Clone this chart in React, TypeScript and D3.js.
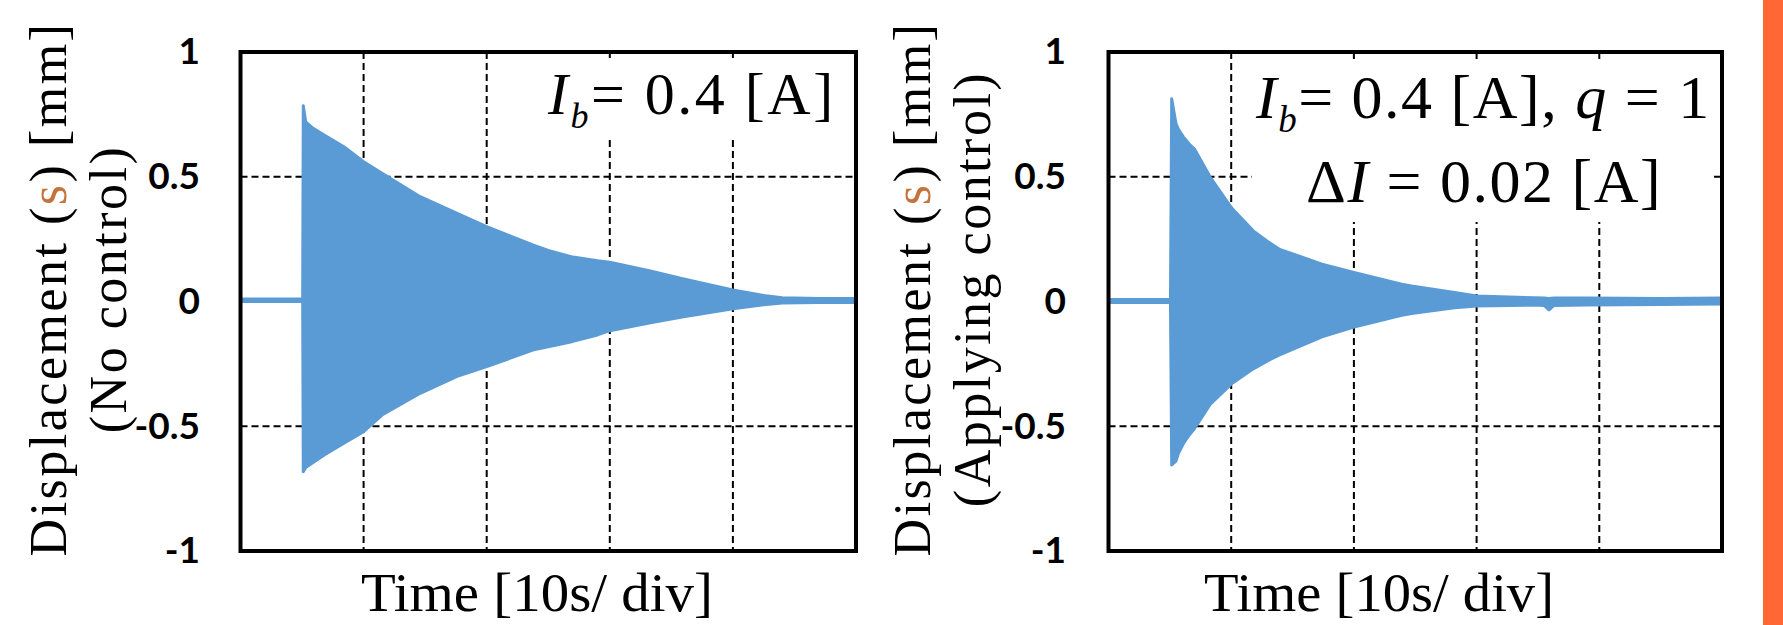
import React, { useEffect, useRef } from 'react';
import * as d3 from 'd3';

// Time axis in seconds (10 s/div), displacement in mm.
const timeTicks = [0, 10, 20, 30, 40, 50];
const yTicks = [1, 0.5, 0, -0.5, -1];
const yTickLabels = ['1', '0.5', '0', '-0.5', '-1'];

const noControlTime = [0, 5.0, 5.05, 5.1, 5.3, 5.9, 6.8, 8.4, 10, 11.5, 14.6, 17.6, 20, 23.8, 25, 27, 29, 30, 33.3, 36, 40, 42.5, 44, 47, 50];
const noControlUpper = [0.01, 0.01, 0.01, 0.785, 0.72, 0.694, 0.667, 0.62, 0.56, 0.514, 0.42, 0.353, 0.3, 0.226, 0.205, 0.178, 0.163, 0.157, 0.122, 0.09, 0.046, 0.024, 0.015, 0.012, 0.012];
const noControlLower = [0, 0, 0, -0.682, -0.665, -0.645, -0.615, -0.568, -0.522, -0.455, -0.368, -0.3, -0.261, -0.194, -0.182, -0.16, -0.134, -0.117, -0.085, -0.061, -0.029, -0.013, -0.006, -0.004, -0.004];

const controlTime = [0, 5.0, 5.05, 5.15, 5.5, 5.7, 6.1, 6.6, 7.0, 8.3, 10, 11.8, 13, 13.9, 17.4, 20, 23.9, 24.7, 28.2, 30, 34.7, 35.5, 35.9, 36.3, 39, 45, 50];
const controlUpper = [0.008, 0.008, 0.008, 0.813, 0.713, 0.69, 0.66, 0.63, 0.612, 0.498, 0.377, 0.283, 0.24, 0.21, 0.15, 0.116, 0.069, 0.062, 0.036, 0.022, 0.015, 0.014, 0.012, 0.014, 0.014, 0.012, 0.014];
const controlLower = [-0.004, -0.004, -0.004, -0.655, -0.64, -0.608, -0.57, -0.534, -0.51, -0.412, -0.331, -0.27, -0.237, -0.215, -0.142, -0.102, -0.055, -0.048, -0.025, -0.018, -0.014, -0.016, -0.034, -0.016, -0.014, -0.012, -0.01];

const BLUE = '#5B9BD5';
const S_COLOR = '#C4733D';
const SERIF = '"Liberation Serif", "Times New Roman", Times, serif';
const SANS = 'Lato, "Liberation Sans", Arial, sans-serif';

const App = () => {
  const svgRef = useRef(null);

  useEffect(() => {
    const svg = d3.select(svgRef.current);
    svg.selectAll('*').remove();

    svg.append('rect').attr('width', 1783).attr('height', 625).attr('fill', '#fff');

    drawPanel(svg, {
      left: 240.5, right: 856, top: 52, bottom: 551,
      time: noControlTime, upper: noControlUpper, lower: noControlLower,
      tickPad: 40.5,
      line1X: 66, line2X: 126, line2: '(No control)',
      titleX: 537, titleY: 611, titleW: 352,
      box: [540, 58, 312, 78],
    });
    // annotation, left panel
    const a = svg.append('text')
      .attr('x', 548).attr('y', 113.5)
      .style('font-family', SERIF).style('font-size', '60px')
      .style('letter-spacing', '2.5px');
    a.append('tspan').style('font-style', 'italic').text('I');
    a.append('tspan').style('font-style', 'italic').style('font-size', '36px').attr('dy', 14).text('b');
    a.append('tspan').attr('dy', -14).text('= 0.4 [A]');

    drawPanel(svg, {
      left: 1108.5, right: 1722, top: 52, bottom: 551,
      time: controlTime, upper: controlUpper, lower: controlLower,
      tickPad: 42.5,
      line1X: 930, line2X: 990, line2: '(Applying control)',
      titleX: 1379, titleY: 611, titleW: 350,
      box: [1252, 63, 462, 159],
    });
    // annotation, right panel (two lines)
    const b1 = svg.append('text')
      .attr('x', 1256).attr('y', 118)
      .style('font-family', SERIF).style('font-size', '62px')
      .style('letter-spacing', '1.5px');
    b1.append('tspan').style('font-style', 'italic').text('I');
    b1.append('tspan').style('font-style', 'italic').style('font-size', '37px').attr('dy', 14).text('b');
    b1.append('tspan').attr('dy', -14).text('= 0.4 [A], ');
    b1.append('tspan').style('font-style', 'italic').text('q');
    b1.append('tspan').text(' = 1');

    const b2 = svg.append('text')
      .attr('x', 1306).attr('y', 202)
      .style('font-family', SERIF).style('font-size', '62px')
      .style('letter-spacing', '1.5px');
    b2.append('tspan').text('\u0394');
    b2.append('tspan').style('font-style', 'italic').text('I');
    b2.append('tspan').text(' = 0.02 [A]');

    // orange strip on the right edge
    svg.append('rect').attr('x', 1763).attr('y', 0).attr('width', 20).attr('height', 625).attr('fill', '#FF6835');
  }, []);

  const drawPanel = (svg, p) => {
    const x = d3.scaleLinear().domain([0, 50]).range([p.left, p.right]);
    const y = d3.scaleLinear().domain([-1, 1]).range([p.bottom, p.top]);
    const g = svg.append('g');

    // dashed grid
    g.append('g').selectAll('line')
      .data(timeTicks.slice(1, -1))
      .enter().append('line')
      .attr('x1', d => x(d)).attr('x2', d => x(d))
      .attr('y1', p.top).attr('y2', p.bottom)
      .attr('stroke', '#000').attr('stroke-width', 2).attr('stroke-dasharray', '7,4');
    g.append('g').selectAll('line')
      .data(yTicks.slice(1, -1))
      .enter().append('line')
      .attr('x1', p.left).attr('x2', p.right)
      .attr('y1', d => y(d)).attr('y2', d => y(d))
      .attr('stroke', '#000').attr('stroke-width', 2).attr('stroke-dasharray', '7,4');

    // white box behind the annotation hides the grid there
    g.append('rect')
      .attr('x', p.box[0]).attr('y', p.box[1])
      .attr('width', p.box[2]).attr('height', p.box[3])
      .attr('fill', '#fff');

    // trace envelope
    const pts = p.time.map((t, i) => ({ t, hi: p.upper[i], lo: p.lower[i] }));
    const area = d3.area()
      .x(d => x(d.t))
      .y0(d => y(d.lo))
      .y1(d => y(d.hi));
    g.append('path')
      .datum(pts)
      .attr('d', area)
      .attr('fill', BLUE)
      .attr('stroke', BLUE)
      .attr('stroke-width', 3)
      .attr('stroke-linejoin', 'round');

    // frame
    g.append('rect')
      .attr('x', p.left).attr('y', p.top)
      .attr('width', p.right - p.left).attr('height', p.bottom - p.top)
      .attr('fill', 'none').attr('stroke', '#000').attr('stroke-width', 4);

    // y tick labels
    const axis = g.append('g')
      .attr('transform', `translate(${p.left},0)`)
      .call(d3.axisLeft(y).tickValues(yTicks).tickFormat((d, i) => yTickLabels[i]).tickSize(0).tickPadding(p.tickPad));
    axis.select('.domain').remove();
    axis.selectAll('text')
      .style('font-family', SANS).style('font-weight', '700').style('font-size', '37px').attr('fill', '#000');

    // y title, two rotated lines
    const t1 = g.append('text')
      .attr('transform', `translate(${p.line1X},289) rotate(-90)`)
      .attr('text-anchor', 'middle')
      .style('font-family', SERIF).style('font-size', '52px')
      .style('letter-spacing', '2.5px');
    t1.append('tspan').text('Displacement (');
    t1.append('tspan').attr('fill', S_COLOR).text('s');
    t1.append('tspan').text(') [mm]');

    g.append('text')
      .attr('transform', `translate(${p.line2X},289) rotate(-90)`)
      .attr('text-anchor', 'middle')
      .style('font-family', SERIF).style('font-size', '52px')
      .style('letter-spacing', '2.5px')
      .text(p.line2);

    // x title
    g.append('text')
      .attr('x', p.titleX).attr('y', p.titleY)
      .attr('text-anchor', 'middle')
      .style('font-family', SERIF).style('font-size', '54px')
      .attr('textLength', p.titleW).attr('lengthAdjust', 'spacingAndGlyphs')
      .text('Time [10s/ div]');
  };

  return (
    <div style={{ position: 'absolute', left: 0, top: 0 }}>
      <svg ref={svgRef} width={1783} height={625} style={{ display: 'block' }}></svg>
    </div>
  );
};

export default App;
